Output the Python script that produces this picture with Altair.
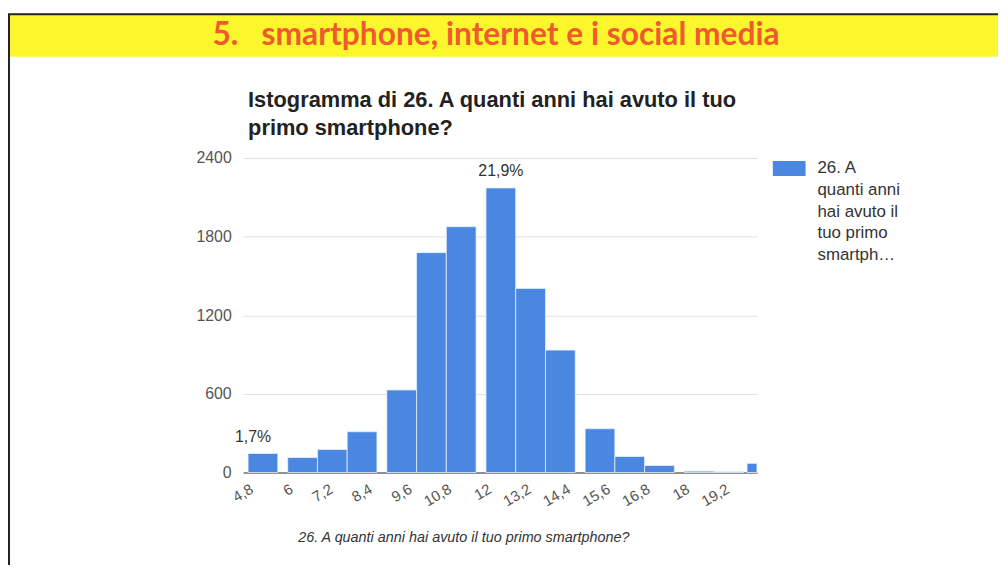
import altair as alt
import pandas as pd

# ---- data ----
bin_start = [4.8, 6.0, 6.9, 7.8, 9.0, 9.9, 10.8, 12.0, 12.9, 13.8, 15.0, 15.9, 16.8, 18.0, 18.9, 19.9]
bin_end = [5.7, 6.9, 7.8, 8.7, 9.9, 10.8, 11.7, 12.9, 13.8, 14.7, 15.9, 16.8, 17.7, 18.9, 19.8, 20.2]
counts = [145, 114, 175, 311, 630, 1678, 1876, 2172, 1405, 934, 334, 122, 53, 10, 5, 70]
x_ticks = [4.8, 6, 7.2, 8.4, 9.6, 10.8, 12, 13.2, 14.4, 15.6, 16.8, 18, 19.2]
y_ticks = [0, 600, 1200, 1800, 2400]
ann_x = [4.95, 12.45]
ann_y = [145, 2172]
ann_text = ["1,7%", "21,9%"]
series_name = "26. A quanti anni hai avuto il tuo primo smartphone?"
legend_lines = ["26. A", "quanti anni", "hai avuto il", "tuo primo", "smartph\u2026"]
banner_text = "5.\u00a0\u00a0\u00a0smartphone, internet e i social media"
chart_title = ["Istogramma di 26. A quanti anni hai avuto il tuo", "primo smartphone?"]

FONT = "Liberation Sans"
BLUE = "#4a87e0"

bars_df = pd.DataFrame({"start": bin_start, "end": bin_end, "count": counts, "serie": series_name})
ann_df = pd.DataFrame({"x": ann_x, "y": ann_y, "t": ann_text})

x_scale = alt.Scale(domain=[4.65, 20.2], nice=False, zero=False)
y_scale = alt.Scale(domain=[0, 2400], nice=False)

bars = alt.Chart(bars_df).mark_rect(stroke="#e4eefa", strokeWidth=0.8).encode(
    x=alt.X("start:Q", scale=x_scale,
            axis=alt.Axis(values=x_ticks, labelAngle=-30, grid=False, ticks=False,
                          domain=True, domainColor="#333333", domainWidth=1.2,
                          labelFont=FONT, labelFontSize=15, labelColor="#555555",
                          labelPadding=9,
                          labelExpr="replace(format(datum.value, '.1~f'), '.', ',')",
                          title=series_name, titleFont=FONT, titleFontSize=14.5,
                          titleFontStyle="italic", titleFontWeight="normal",
                          titleColor="#333333", titleX=222, titleY=66,
                          titleBaseline="middle", titleAlign="center")),
    x2="end:Q",
    y=alt.Y("count:Q", scale=y_scale,
            axis=alt.Axis(values=y_ticks, format="d", grid=True, gridColor="#e0e0e0",
                          ticks=False, domain=False, labelFont=FONT, labelFontSize=16,
                          labelColor="#555555", labelPadding=12, title=None)),
    y2=alt.datum(0),
    color=alt.Color("serie:N", scale=alt.Scale(range=[BLUE]),
                    legend=alt.Legend(title=None, orient="none", legendX=534, legendY=0,
                                      padding=0, symbolType="M-1,-0.812H1V0.097H-1Z",
                                      symbolSize=1089, symbolStrokeWidth=0,
                                      labelOffset=8, labelFontSize=1, labelExpr="''")),
)

ann = alt.Chart(ann_df).mark_text(font=FONT, fontSize=16, color="#333333",
                                  baseline="bottom", dy=-9).encode(
    x=alt.X("x:Q", scale=x_scale), y=alt.Y("y:Q", scale=y_scale), text="t:N")

# legend label (wrapped as in the reference)
legend_label = alt.Chart().mark_text(text=legend_lines, font=FONT, fontSize=17,
                                     color="#333333", align="left", baseline="alphabetic",
                                     lineHeight=22).encode(
    x=alt.value(579), y=alt.value(15))

# chart heading (two lines) and decorations of the scanned page
heading = alt.Chart().mark_text(text=chart_title, font=FONT, fontWeight="bold",
                                fontSize=22, color="#222222", align="left",
                                baseline="alphabetic", lineHeight=28).encode(
    x=alt.value(5), y=alt.value(-51))
banner = alt.Chart().mark_rect(color="#fcf72c").encode(
    x=alt.value(-242), x2=alt.value(761), y=alt.value(-144), y2=alt.value(-102))
banner_label = alt.Chart().mark_text(text=banner_text, font="Lato", fontWeight="bold",
                                     fontSize=32, color="#f05a30", baseline="middle",
                                     align="center").encode(
    x=alt.value(255), y=alt.value(-124))
top_rule = alt.Chart().mark_rule(color="#222222", strokeWidth=2).encode(
    x=alt.value(-242), x2=alt.value(761), y=alt.value(-145))
left_rule = alt.Chart().mark_rule(color="#222222", strokeWidth=2).encode(
    x=alt.value(-236), y=alt.value(-145), y2=alt.value(420))

chart = alt.layer(banner, top_rule, left_rule, banner_label, heading, legend_label,
                  bars, ann).properties(
    width=518, height=317,
    background="white",
    autosize=alt.AutoSizeParams(type="none"),
    padding={"left": 237, "top": 149, "right": 245, "bottom": 91},
).configure_view(stroke=None)

chart.save("out.html", embed_options={"renderer": "svg", "actions": False})
